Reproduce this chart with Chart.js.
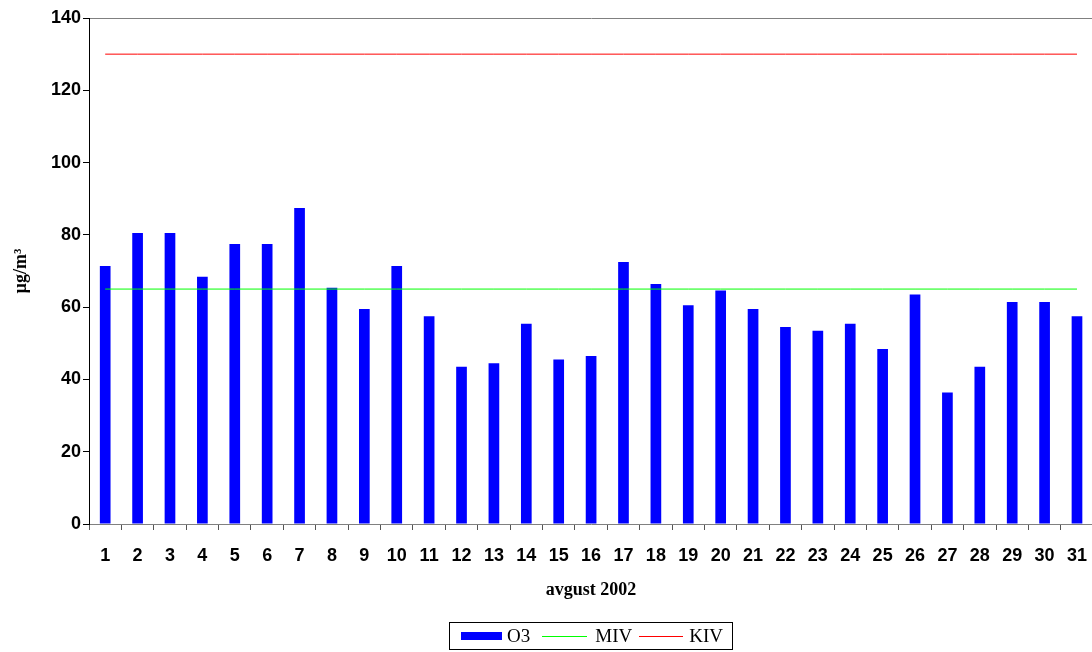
<!DOCTYPE html>
<html>
<head>
<meta charset="utf-8">
<script src="https://cdn.jsdelivr.net/npm/chart.js@4/dist/chart.umd.min.js"></script>
<style>
  html, body { margin: 0; padding: 0; background: #fff; overflow: hidden; }
  #Wrap { position: relative; width: 1102px; height: 652px; }
  #Legend {
    position: absolute; left: 449px; top: 622px; width: 284px; height: 28px;
    border: 1px solid #000; box-sizing: border-box;
    font-family: "Liberation Serif", "Times New Roman", serif; font-size: 19px;
    display: flex; align-items: center; color: #000;
  }
  #Legend span { display: inline-block; }
  .swatch { width: 41px; height: 8px; background: #0000ff; }
  .lineMIV { width: 45px; height: 0; border-top: 1px solid #00ff00; }
  .lineKIV { width: 44px; height: 0; border-top: 1px solid #ff0000; }
</style>
</head>
<body>
<div id="Wrap">
  <canvas id="O3Chart" width="1102" height="652"></canvas>
  <div id="Legend"></div>
</div>
<script>
const days = ["1","2","3","4","5","6","7","8","9","10","11","12","13","14","15","16",
  "17","18","19","20","21","22","23","24","25","26","27","28","29","30","31"];
const o3 = [71.4, 80.5, 80.5, 68.4, 77.5, 77.5, 87.4, 65.4, 59.5, 71.4, 57.5, 43.5, 44.5, 55.4, 45.5, 46.5,
  72.5, 66.4, 60.5, 64.6, 59.5, 54.5, 53.5, 55.4, 48.4, 63.5, 36.4, 43.5, 61.4, 61.4, 57.5];
const mivValue = 65;
const kivValue = 130;
const yTicks = [0, 20, 40, 60, 80, 100, 120, 140];

const miv = days.map(() => mivValue);
const kiv = days.map(() => kivValue);

const ctx = document.getElementById("O3Chart").getContext("2d");
new Chart(ctx, {
  type: "bar",
  data: {
    labels: days,
    datasets: [
      { label: "O3", data: o3, backgroundColor: "#0000ff", borderWidth: 0,
        categoryPercentage: 1, barPercentage: 0.33, order: 2 },
      { type: "line", label: "MIV", data: miv, borderColor: "#00ff00", borderWidth: 1,
        pointRadius: 0, fill: false, order: 1 },
      { type: "line", label: "KIV", data: kiv, borderColor: "#ff0000", borderWidth: 1,
        pointRadius: 0, fill: false, order: 1 },
    ],
  },
  options: {
    responsive: false,
    animation: false,
    layout: { padding: { left: 0, right: 0, top: 18, bottom: 48 } },
    plugins: { legend: { display: false }, tooltip: { enabled: false } },
    scales: {
      x: {
        offset: true,
        grid: { offset: true, drawOnChartArea: false, tickLength: 6, color: "#555" },
        border: { color: "#808080", width: 1 },
        ticks: {
          color: "#000", padding: 15, maxRotation: 0, autoSkip: false,
          font: { family: "'Liberation Sans', Arial, sans-serif", size: 18, weight: "bold" },
        },
        title: {
          display: true, text: "avgust 2002", color: "#000",
          font: { family: "'Liberation Serif', 'Times New Roman', serif", size: 18, weight: "bold" },
          padding: { top: 0, bottom: 3 },
        },
        afterFit: (scale) => { scale.height = 80; },
      },
      y: {
        min: 0, max: 140,
        afterBuildTicks: (scale) => { scale.ticks = yTicks.map((v) => ({ value: v })); },
        grid: {
          drawOnChartArea: true, tickLength: 6,
          color: (c) => (c.tick && c.tick.value === 140 ? "#808080" : "rgba(0,0,0,0)"),
          tickColor: "#000",
        },
        border: { color: "#000", width: 1 },
        ticks: {
          color: "#000", padding: 2,
          font: { family: "'Liberation Sans', Arial, sans-serif", size: 18, weight: "bold" },
        },
        title: {
          display: true, text: "µg/m³", color: "#000",
          font: { family: "'Liberation Serif', 'Times New Roman', serif", size: 18, weight: "bold" },
          padding: { top: 11, bottom: 0 },
        },
        afterFit: (scale) => { scale.width = 89; },
      },
    },
  },
});

// legend
const legend = document.getElementById("Legend");
legend.innerHTML =
  '<span class="swatch" style="margin-left:11px"></span>' +
  '<span style="margin-left:5px">O3</span>' +
  '<span class="lineMIV" style="margin-left:12px"></span>' +
  '<span style="margin-left:8px">MIV</span>' +
  '<span class="lineKIV" style="margin-left:7px"></span>' +
  '<span style="margin-left:6px">KIV</span>';
</script>
</body>
</html>
